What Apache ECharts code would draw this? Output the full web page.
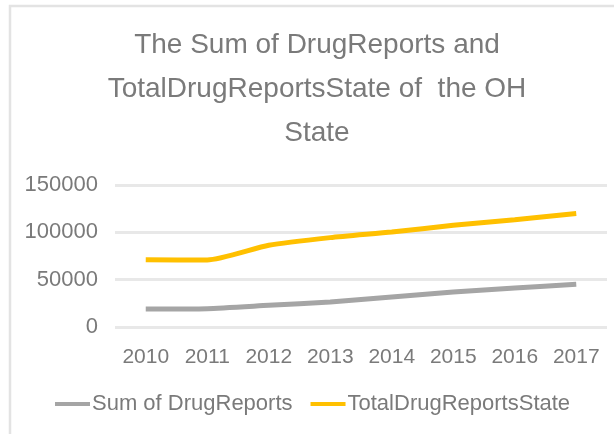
<!DOCTYPE html>
<html>
<head>
<meta charset="utf-8">
<script src="https://cdn.jsdelivr.net/npm/echarts@6/dist/echarts.min.js"></script>
<style>
html,body{margin:0;padding:0;background:#fff;}
#main{width:614px;height:434px;}
</style>
</head>
<body>
<div id="main"></div>
<script>
const titleText = "The Sum of DrugReports and\nTotalDrugReportsState of  the OH\nState";
const years = ["2010","2011","2012","2013","2014","2015","2016","2017"];
const sumDrugReports = [19000, 19400, 22900, 26400, 31700, 37000, 41200, 45100];
const totalDrugReportsState = [71000, 70800, 86300, 94400, 100400, 107400, 113400, 119800];
const seriesNames = ["Sum of DrugReports", "TotalDrugReportsState"];
const yTicks = {min: 0, max: 150000, interval: 50000};

const textColor = '#7a7a7a';
const font = 'Liberation Sans';
const chart = echarts.init(document.getElementById('main'));
chart.setOption({
  animation: false,
  backgroundColor: '#fff',
  graphic: [{
    type: 'rect',
    shape: {x: 10, y: 6, width: 700, height: 600},
    style: {fill: 'none', stroke: '#e3e3e3', lineWidth: 2.5},
    silent: true
  }],
  title: {
    text: titleText,
    left: 312,
    textAlign: 'center',
    top: 18,
    textStyle: {fontFamily: font, fontSize: 28, fontWeight: 'normal', color: textColor, lineHeight: 44}
  },
  legend: {
    bottom: 14,
    left: 50,
    icon: 'rect',
    itemWidth: 35,
    itemHeight: 4,
    itemGap: 18,
    textStyle: {fontFamily: font, fontSize: 22, color: textColor, padding: [0,0,0,-3]},
    data: seriesNames
  },
  grid: {left: 115, right: 7, top: 185, bottom: 107},
  xAxis: {
    type: 'category',
    data: years,
    boundaryGap: true,
    axisLine: {show: false},
    axisTick: {show: false},
    axisLabel: {fontFamily: font, fontSize: 21, color: textColor, margin: 20, interval: 0}
  },
  yAxis: {
    type: 'value',
    min: yTicks.min, max: yTicks.max, interval: yTicks.interval,
    axisLine: {show: false},
    axisTick: {show: false},
    axisLabel: {fontFamily: font, fontSize: 22, color: textColor, margin: 17, formatter: v => String(v)},
    splitLine: {lineStyle: {color: '#e8e8e8', width: 3}}
  },
  series: [
    {name: seriesNames[0], type: 'line', data: sumDrugReports, smooth: 0.2, showSymbol: false,
     lineStyle: {color: '#A5A5A5', width: 5}, itemStyle: {color: '#A5A5A5'}},
    {name: seriesNames[1], type: 'line', data: totalDrugReportsState, smooth: 0.2, showSymbol: false,
     lineStyle: {color: '#FFC000', width: 5}, itemStyle: {color: '#FFC000'}}
  ]
});
</script>
</body>
</html>
